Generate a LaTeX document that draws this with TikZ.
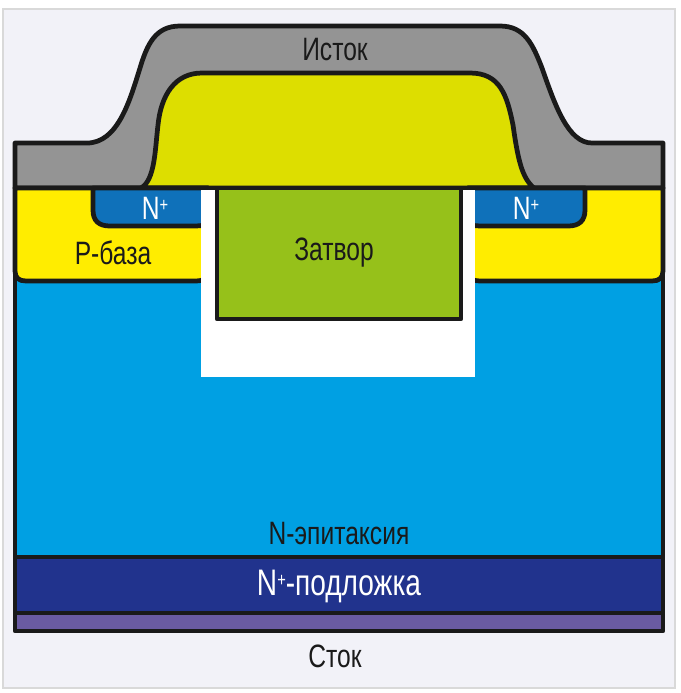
\documentclass[tikz,border=0pt]{standalone}
\usepackage{fontspec}
\newfontfamily\narrowfont[FakeStretch=0.76]{Liberation Sans}
\definecolor{framebg}{HTML}{F2F2F8}
\definecolor{frameline}{HTML}{D9D9D9}
\definecolor{linedark}{HTML}{1A1A1A}
\definecolor{sourcegray}{HTML}{949494}
\definecolor{oxideyellow}{HTML}{DDDE00}
\definecolor{baseyellow}{HTML}{FFED00}
\definecolor{nplusblue}{HTML}{0F71BA}
\definecolor{epiblue}{HTML}{00A0E3}
\definecolor{gategreen}{HTML}{96C11A}
\definecolor{subblue}{HTML}{21338D}
\definecolor{drainviolet}{HTML}{6A5BA2}
\newcommand{\nplus}{N\raisebox{0.42ex}{\fontsize{5.5}{6}\selectfont +}}
\tikzset{
  layer/.style={draw=linedark, line width=1.35pt, line join=round},
  lbl/.style={inner sep=0pt, font=\narrowfont\fontsize{9.2}{11}\selectfont, text=linedark},
  lblwhite/.style={lbl, text=white}
}
\begin{document}
\begin{tikzpicture}[x=0.01cm, y=-0.01cm]
  \useasboundingbox (0,0) rectangle (681,693);
  \draw[frameline, fill=framebg, line width=0.7pt] (3,9) rectangle (675,688);

  % source metal
  \draw[layer, fill=sourcegray] (15,188) -- (15,143) -- (87,143)
    .. controls (118,143) and (130,100) .. (140,68)
    .. controls (147,45) and (155,26) .. (180,26)
    -- (500,26)
    .. controls (525,26) and (533,45) .. (542,68)
    .. controls (555,105) and (568,143) .. (592,143)
    -- (663,143) -- (663,188) -- cycle;
  % oxide
  \draw[layer, fill=oxideyellow] (141,188)
    .. controls (155,180) and (155,150) .. (158,125)
    .. controls (161,95) and (175,73) .. (202,73)
    -- (470,73)
    .. controls (500,73) and (507,95) .. (513,125)
    .. controls (518,160) and (522,178) .. (534,188) -- cycle;

  % epitaxial layer
  \draw[layer, fill=epiblue] (15,270) rectangle (663,557);
  % base
  \draw[layer, fill=baseyellow] (208,188) -- (15,188) -- (15,271)
    .. controls (15,278) and (19,281) .. (26,281)
    -- (194,281) .. controls (203,281) and (208,279) .. (208,274) -- cycle;
  \draw[layer, fill=baseyellow] (468,188) -- (663,188) -- (663,271)
    .. controls (663,278) and (659,281) .. (652,281)
    -- (482,281) .. controls (473,281) and (468,279) .. (468,274) -- cycle;
  % n+ wells
  \draw[layer, fill=nplusblue] (93,188) -- (93,210)
    .. controls (93,221) and (99,226) .. (110,226)
    -- (196,226) .. controls (203,226) and (208,224) .. (208,220) -- (208,188) -- cycle;
  \draw[layer, fill=nplusblue] (585,188) -- (585,210)
    .. controls (585,221) and (579,226) .. (568,226)
    -- (480,226) .. controls (473,226) and (468,224) .. (468,220) -- (468,188) -- cycle;

  % trench and gate
  \fill[white] (201,188) rectangle (475,377);
  \draw[layer, fill=gategreen] (217,188) rectangle (461,319);
  \draw[layer] (15,188) -- (663,188);

  % lower layers
  \draw[layer, fill=subblue] (15,557) rectangle (663,613);
  \draw[layer, fill=drainviolet] (15,613) rectangle (663,631);

  \node[lbl] (source) at (335,50) {Исток};
  \node[lbl] (base) at (113,253) {P-база};
  \node[lblwhite] (nleft) at (155,208) {\nplus};
  \node[lblwhite] (nright) at (526,208) {\nplus};
  \node[lbl] (gate) at (334,253) {Затвор};
  \node[lbl] (epi) at (339,534) {N-эпитаксия};
  \node[lblwhite, font=\narrowfont\fontsize{10.5}{12}\selectfont] (sub) at (339,586) {\nplus-подложка};
  \node[lbl] (drain) at (335,656) {Сток};
\end{tikzpicture}
\end{document}
